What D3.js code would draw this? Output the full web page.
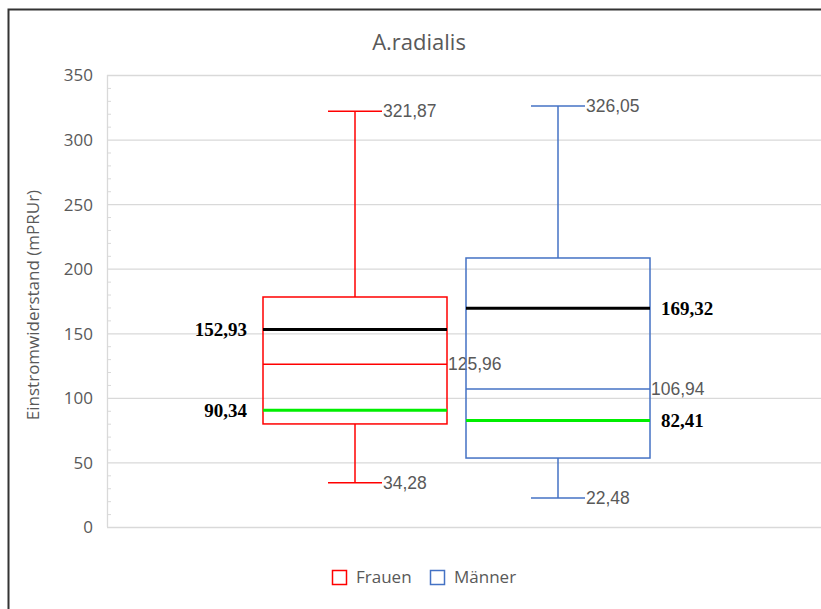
<!DOCTYPE html>
<html><head><meta charset="utf-8">
<script src="https://cdn.jsdelivr.net/npm/d3@7"></script>
<style>html,body{margin:0;padding:0;background:#fff;}svg{display:block;}</style>
</head><body>
<svg id="chart" width="821" height="609"></svg>
<script>
const categories = ["Frauen", "Männer"];
const colors = ["#ff0000", "#4472c4"];
const whiskerMax = [321.87, 326.05];
const q3 = [178.1, 208.3];
const medians = [125.96, 106.94];
const q1 = [79.8, 53.4];
const whiskerMin = [34.28, 22.48];
const meanValues = [152.93, 169.32];   // black lines
const greenValues = [90.34, 82.41];    // green lines
const yTicks = [0, 50, 100, 150, 200, 250, 300, 350];

const fmt = v => v.toFixed(2).replace(".", ",");
const svg = d3.select("#chart");

// frame
svg.append("path").attr("d","M8.5,609 L8.5,9.5 L821,9.5").attr("fill","none").attr("stroke","#333").attr("stroke-width",2);

const plot = {left:107, right:821, top:75, bottom:527};
const y = d3.scaleLinear().domain([0,350]).range([plot.bottom, plot.top]);
const x = d3.scalePoint().domain(categories).range([355, 558]);
const boxW = 184, capW = 54;

// gridlines
svg.append("g").selectAll("line").data(yTicks).join("line")
  .attr("x1", plot.left).attr("x2", plot.right)
  .attr("y1", d=>y(d)+0.5).attr("y2", d=>y(d)+0.5)
  .attr("stroke","#d9d9d9").attr("stroke-width",1.3);
// left axis line
svg.append("line").attr("x1",plot.left+0.5).attr("x2",plot.left+0.5).attr("y1",plot.top).attr("y2",plot.bottom)
  .attr("stroke","#d9d9d9").attr("stroke-width",1.3);
// minor ticks
const minor = d3.range(0,351,10).filter(v=>v%50!==0);
svg.append("g").selectAll("line").data(minor).join("line")
  .attr("x1", plot.left).attr("x2", plot.left+4)
  .attr("y1", d=>y(d)+0.5).attr("y2", d=>y(d)+0.5)
  .attr("stroke","#d9d9d9").attr("stroke-width",1);

// y axis labels
const yAxis = d3.axisLeft(y).tickValues(yTicks).tickSize(0).tickPadding(0);
const ga = svg.append("g").attr("transform",`translate(${plot.left-14},0)`).call(yAxis);
ga.select(".domain").remove();
ga.selectAll("text").attr("fill","#595959").style("font-family","'Open Sans', sans-serif").style("font-size","17px").attr("dy","0.35em");

// y label
svg.append("text").attr("transform","translate(39,305) rotate(-90)").attr("text-anchor","middle")
  .attr("fill","#595959").style("font-family","'Open Sans', sans-serif").style("font-size","17px")
  .text("Einstromwiderstand (mPRUr)");

// title
svg.append("text").attr("x",419).attr("y",50).attr("text-anchor","middle").attr("fill","#595959")
  .style("font-family","'Open Sans', sans-serif").style("font-size","22px").text("A.radialis");

const data = categories.map((c,i)=>({c,i,col:colors[i],max:whiskerMax[i],q3:q3[i],med:medians[i],q1:q1[i],min:whiskerMin[i],mean:meanValues[i],green:greenValues[i]}));

const g = svg.append("g").selectAll("g").data(data).join("g");
// whiskers
g.append("line").attr("x1",d=>x(d.c)).attr("x2",d=>x(d.c)).attr("y1",d=>y(d.max)).attr("y2",d=>y(d.q3)).attr("stroke",d=>d.col).attr("stroke-width",1.5);
g.append("line").attr("x1",d=>x(d.c)).attr("x2",d=>x(d.c)).attr("y1",d=>y(d.q1)).attr("y2",d=>y(d.min)).attr("stroke",d=>d.col).attr("stroke-width",1.5);
g.append("line").attr("x1",d=>x(d.c)-capW/2).attr("x2",d=>x(d.c)+capW/2).attr("y1",d=>y(d.max)).attr("y2",d=>y(d.max)).attr("stroke",d=>d.col).attr("stroke-width",1.5);
g.append("line").attr("x1",d=>x(d.c)-capW/2).attr("x2",d=>x(d.c)+capW/2).attr("y1",d=>y(d.min)).attr("y2",d=>y(d.min)).attr("stroke",d=>d.col).attr("stroke-width",1.5);
// box
g.append("rect").attr("x",d=>x(d.c)-boxW/2).attr("width",boxW).attr("y",d=>y(d.q3)).attr("height",d=>y(d.q1)-y(d.q3))
  .attr("fill","none").attr("stroke",d=>d.col).attr("stroke-width",1.5);
// median
g.append("line").attr("x1",d=>x(d.c)-boxW/2).attr("x2",d=>x(d.c)+boxW/2).attr("y1",d=>y(d.med)).attr("y2",d=>y(d.med)).attr("stroke",d=>d.col).attr("stroke-width",1.5);
// mean (black)
g.append("line").attr("x1",d=>x(d.c)-boxW/2).attr("x2",d=>x(d.c)+boxW/2).attr("y1",d=>y(d.mean)).attr("y2",d=>y(d.mean)).attr("stroke","#000").attr("stroke-width",3);
// green
g.append("line").attr("x1",d=>x(d.c)-boxW/2).attr("x2",d=>x(d.c)+boxW/2).attr("y1",d=>y(d.green)).attr("y2",d=>y(d.green)).attr("stroke","#00ee00").attr("stroke-width",3);

// gray value labels
const grayFont = "'Liberation Sans', Arial, sans-serif";
const grayLabel = (sel, key) => sel.append("text").attr("x",d=>x(d.c)+capW/2+1).attr("y",d=>y(d[key])).attr("dy","0.35em")
  .attr("fill","#595959").style("font-family",grayFont).style("font-size","17.5px").text(d=>fmt(d[key]));
grayLabel(g,"max"); grayLabel(g,"min");
g.append("text").attr("x",d=>x(d.c)+boxW/2+1).attr("y",d=>y(d.med)).attr("dy","0.35em")
  .attr("fill","#595959").style("font-family",grayFont).style("font-size","17.5px").text(d=>fmt(d.med));

// bold labels
const boldLabel = (key) => g.append("text")
  .attr("x",d=>d.i===0 ? x(d.c)-boxW/2-16 : x(d.c)+boxW/2+11)
  .attr("y",d=>y(d[key])).attr("dy","0.35em")
  .attr("text-anchor",d=>d.i===0?"end":"start")
  .attr("fill","#000").style("font-family","'Liberation Serif', 'Times New Roman', serif").style("font-weight","bold").style("font-size","19px")
  .text(d=>fmt(d[key]));
boldLabel("mean"); boldLabel("green");

// legend
const lg = svg.append("g").selectAll("g").data(data).join("g").attr("transform",(d,i)=>`translate(${i===0?332:430},570)`);
lg.append("rect").attr("x",0.5).attr("y",0.5).attr("width",14).attr("height",14).attr("fill","none").attr("stroke",d=>d.col).attr("stroke-width",1.5);
lg.append("text").attr("x",24).attr("y",7.5).attr("dy","0.35em").attr("fill","#595959")
  .style("font-family","'Open Sans', sans-serif").style("font-size","17px").text(d=>d.c);
</script>
</body></html>
